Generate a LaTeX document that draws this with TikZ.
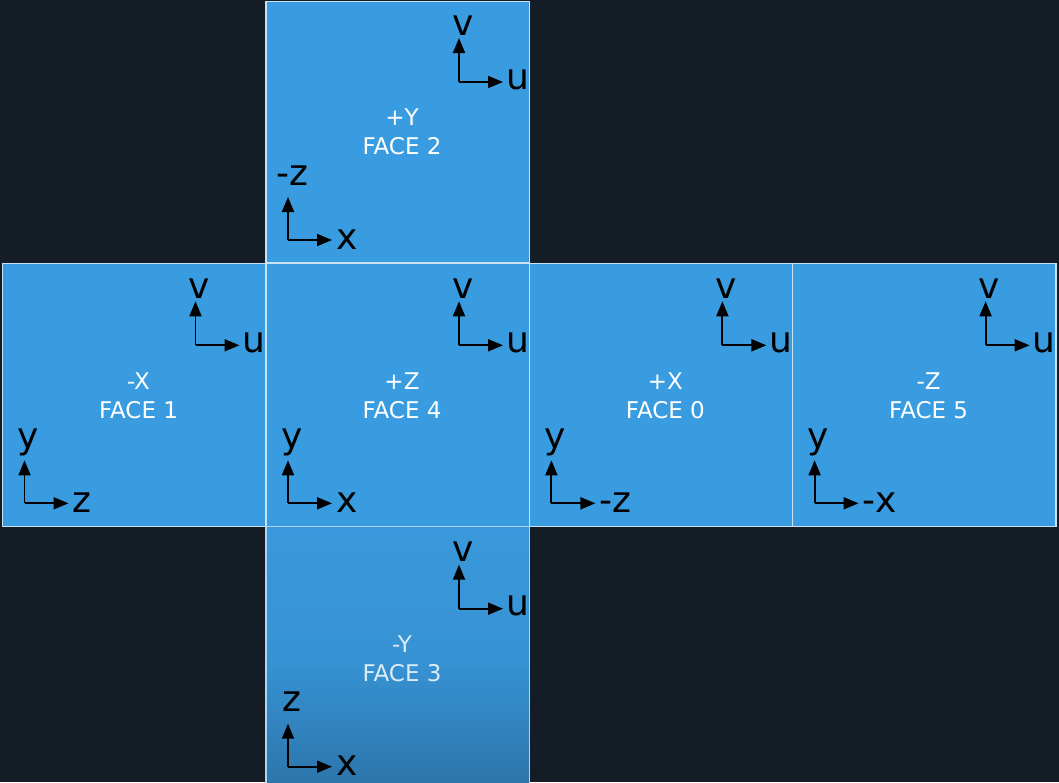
\documentclass[tikz,border=0pt]{standalone}
\usepackage{fontspec}
\setmainfont{DejaVu Sans}
\usetikzlibrary{arrows.meta,calc}
\definecolor{bg}{HTML}{141C26}
\definecolor{facec}{HTML}{3A9CE0}
\definecolor{edgec}{HTML}{C9E3F4}
\definecolor{facetop}{HTML}{3998DB}
\definecolor{facedark}{HTML}{2C74AA}
\tikzset{
  face/.style={draw=edgec, line width=1.4pt, fill=facec, minimum width=263.4pt,
    minimum height=263.4pt, inner sep=0pt, outer sep=0pt, anchor=north west},
  facelabel/.style={text=white, font=\fontsize{23}{29}\selectfont, align=center, inner sep=0pt},
  axis/.style={line width=1.9pt, draw=black, -{Triangle[length=15pt,width=12pt]}},
  axlabel/.style={font=\fontsize{36}{36}\selectfont, inner sep=0pt, text=black},
}
% #1 name, #2 x0, #3 y0, #4 label, #5 lower horizontal label, #6 lower vertical label
\newcommand\cubeaxes[6]{%
  \node[facelabel] (#1-lab) at (#2+136,#3+132) {#4};
  \coordinate (#1-uc) at (#2+193,#3+82);
  \coordinate (#1-vt) at (#2+193,#3+38);
  \coordinate (#1-ut) at (#2+237,#3+82);
  \node[axlabel, anchor=base] (#1-v) at (#2+197,#3+35) {v};
  \node[axlabel, anchor=base west] (#1-u) at (#2+240,#3+89) {u};
  \draw[axis] (#1-uc) -- (#1-vt);
  \draw[axis] (#1-uc) -- (#1-ut);
  \coordinate (#1-lc) at (#2+22,#3+240);
  \coordinate (#1-yt) at (#2+22,#3+197);
  \coordinate (#1-xt) at (#2+66,#3+240);
  \node[axlabel, anchor=base] (#1-y) at (#2+26,#3+185) {#6};
  \node[axlabel, anchor=base west] (#1-x) at (#2+70,#3+249) {#5};
  \draw[axis] (#1-lc) -- (#1-yt);
  \draw[axis] (#1-lc) -- (#1-xt);
}
\begin{document}
\begin{tikzpicture}[x=1pt,y=-1pt]
\useasboundingbox (0,0) rectangle (1059,782);
\fill[bg] (0,0) rectangle (1059,782);
% faces
\node[face, minimum height=261.5pt] (f2) at (266,1.5) {};
\node[face] (f1) at (2.5,263.3) {};
\node[face] (f4) at (266,263.3) {};
\node[face] (f0) at (529.4,263.3) {};
\node[face] (f5) at (792.6,263.3) {};
\node[face, draw=edgec!80!facec, top color=facetop, bottom color=facedark, middle color=facetop!85!facedark] (f3) at (266,526.7) {};
\cubeaxes{a2}{266}{0}{+Y\\FACE 2}{x}{-z}
\cubeaxes{a1}{2.5}{263.3}{-X\\FACE 1}{z}{y}
\cubeaxes{a4}{266}{263.3}{+Z\\FACE 4}{x}{y}
\cubeaxes{a0}{529.4}{263.3}{+X\\FACE 0}{-z}{y}
\cubeaxes{a5}{792.6}{263.3}{-Z\\FACE 5}{-x}{y}
\begin{scope}[facelabel/.append style={text=white!82!facetop}]
\cubeaxes{a3}{266}{526.7}{-Y\\FACE 3}{x}{z}
\end{scope}
\end{tikzpicture}
\end{document}
